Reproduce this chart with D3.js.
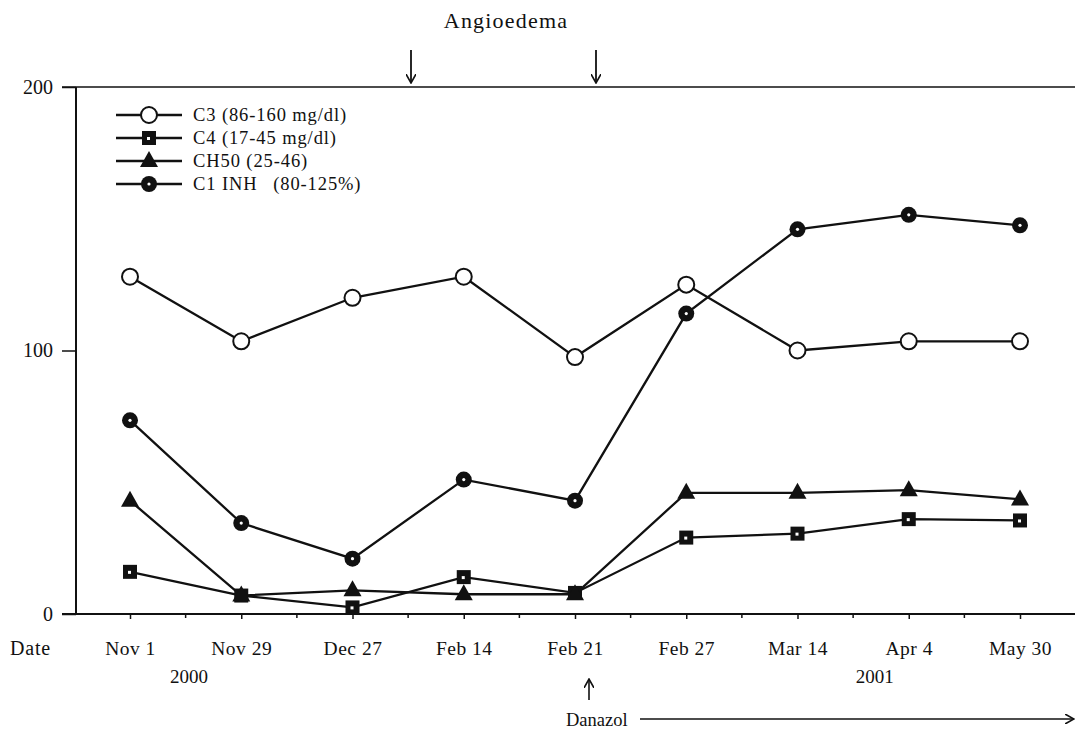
<!DOCTYPE html>
<html><head><meta charset="utf-8">
<script src="https://cdn.jsdelivr.net/npm/d3@7"></script>
<style>body{margin:0;background:#fff}svg{display:block}text{font-family:"Liberation Serif","DejaVu Serif",serif;fill:#111}</style>
</head><body><svg id="c" width="1077" height="733"></svg>
<script>
const dates = ["Nov 1","Nov 29","Dec 27","Feb 14","Feb 21","Feb 27","Mar 14","Apr 4","May 30"];
const c3 = [128,103.5,120,128,97.5,125,100,103.5,103.5];
const c4 = [16,7,2.5,14,8,29,30.5,36,35.5];
const ch50 = [43,7,9,7.5,7.5,46,46,47,43.5];
const c1inh = [73.5,34.5,21,51,43,114,146,151.5,147.5];
const yTicks = [0,100,200];
const seriesNames = ["C3 (86-160 mg/dl)","C4 (17-45 mg/dl)","CH50 (25-46)","C1 INH\u2002 (80-125%)"];

const svg = d3.select("#c");
const x = d3.scalePoint().domain(dates).range([130,1020]);
const y = d3.scaleLinear().domain([0,200]).range([614,87]);
const ink = "#111";

// frame lines
svg.append("line").attr("x1",62).attr("x2",1075).attr("y1",y(200)).attr("y2",y(200)).attr("stroke",ink).attr("stroke-width",1.6);
svg.append("line").attr("x1",62).attr("x2",1075).attr("y1",y(0)).attr("y2",y(0)).attr("stroke",ink).attr("stroke-width",2);
svg.append("line").attr("x1",76).attr("x2",76).attr("y1",y(200)).attr("y2",y(0)).attr("stroke",ink).attr("stroke-width",2);

// y axis
const ya = d3.axisLeft(y).tickValues(yTicks).tickSize(14).tickPadding(9);
const yg = svg.append("g").attr("transform","translate(76,0)").call(ya);
yg.select(".domain").remove();
yg.selectAll("line").attr("stroke",ink).attr("stroke-width",1.5);
yg.selectAll("text").attr("font-size",20).attr("font-family","Liberation Serif").attr("fill",ink);

// x axis ticks
const xa = d3.axisBottom(x).tickSize(5).tickPadding(22);
const xg = svg.append("g").attr("transform",`translate(0,${y(0)})`).call(xa);
xg.select(".domain").remove();
xg.selectAll("line").attr("stroke",ink).attr("stroke-width",1.5);
xg.selectAll("text").attr("font-size",19.5).attr("letter-spacing",0.5).attr("font-family","Liberation Serif").attr("fill",ink);
// minor ticks at midpoints
const mids = dates.slice(1).map((d,i)=> (x(dates[i])+x(d))/2);
svg.selectAll(".minor").data(mids).join("line").attr("x1",d=>d).attr("x2",d=>d)
  .attr("y1",y(0)).attr("y2",y(0)+4).attr("stroke",ink).attr("stroke-width",1.5);

svg.append("text").attr("x",10).attr("y",655).attr("font-size",20).attr("letter-spacing",0.8).text("Date");
svg.append("text").attr("x",x("Nov 1")+59).attr("y",683).attr("font-size",19).attr("text-anchor","middle").text("2000");
svg.append("text").attr("x",x("Apr 4")-34).attr("y",683).attr("font-size",19).attr("text-anchor","middle").text("2001");

// arrowhead marker defs
const defs = svg.append("defs");
defs.append("marker").attr("id","ah").attr("viewBox","0 0 10 10").attr("refX",9).attr("refY",5)
  .attr("markerWidth",10).attr("markerHeight",10).attr("markerUnits","userSpaceOnUse").attr("orient","auto")
  .append("path").attr("d","M0,0 L9,5 L0,10").attr("fill","none").attr("stroke",ink).attr("stroke-width",1.6);

// Angioedema annotations
svg.append("text").attr("x",506).attr("y",28).attr("font-size",22).attr("letter-spacing",1.2).attr("text-anchor","middle").text("Angioedema");
[411,596].forEach(ax=>{
  svg.append("line").attr("x1",ax).attr("x2",ax).attr("y1",50).attr("y2",83).attr("stroke",ink).attr("stroke-width",1.8).attr("marker-end","url(#ah)");
});
// Danazol
svg.append("line").attr("x1",x("Feb 21")+14).attr("x2",x("Feb 21")+14).attr("y1",700).attr("y2",679).attr("stroke",ink).attr("stroke-width",1.6).attr("marker-end","url(#ah)");
svg.append("text").attr("x",566).attr("y",726).attr("font-size",18.5).text("Danazol");
svg.append("line").attr("x1",640).attr("x2",1074).attr("y1",719).attr("y2",719).attr("stroke",ink).attr("stroke-width",1.6).attr("marker-end","url(#ah)");

// series
const series = [
  {vals:c3,type:"open"},
  {vals:c4,type:"square"},
  {vals:ch50,type:"tri"},
  {vals:c1inh,type:"dot"}
];
const line = d3.line().x((d,i)=>x(dates[i])).y(d=>y(d));
function drawMarker(g,type,cx,cy){
  if(type==="open"){
    g.append("circle").attr("cx",cx).attr("cy",cy).attr("r",8).attr("fill","#fff").attr("stroke",ink).attr("stroke-width",2);
  } else if(type==="dot"){
    g.append("circle").attr("cx",cx).attr("cy",cy).attr("r",8).attr("fill",ink);
    g.append("circle").attr("cx",cx).attr("cy",cy).attr("r",1.6).attr("fill","#fff");
  } else if(type==="square"){
    g.append("rect").attr("x",cx-7).attr("y",cy-7).attr("width",14).attr("height",14).attr("fill",ink);
    g.append("rect").attr("x",cx-2).attr("y",cy-1).attr("width",3).attr("height",3).attr("fill","#fff");
  } else {
    g.append("path").attr("d",`M${cx},${cy-10}L${cx+9},${cy+6}L${cx-9},${cy+6}Z`).attr("fill",ink);
  }
}
series.forEach(s=>{
  svg.append("path").datum(s.vals).attr("d",line).attr("fill","none").attr("stroke",ink).attr("stroke-width",2.3);
});
series.forEach(s=>{
  const g = svg.append("g");
  s.vals.forEach((v,i)=>drawMarker(g,s.type,x(dates[i]),y(v)));
});

// legend
const legY = [115,138,161,184];
series.forEach((s,i)=>{
  const g = svg.append("g");
  g.append("line").attr("x1",116).attr("x2",182).attr("y1",legY[i]).attr("y2",legY[i]).attr("stroke",ink).attr("stroke-width",2.3);
  drawMarker(g,s.type,149,legY[i]);
  g.append("text").attr("x",193).attr("y",legY[i]+6).attr("font-size",18.5).attr("letter-spacing",0.9).text(seriesNames[i]);
});
</script></body></html>
